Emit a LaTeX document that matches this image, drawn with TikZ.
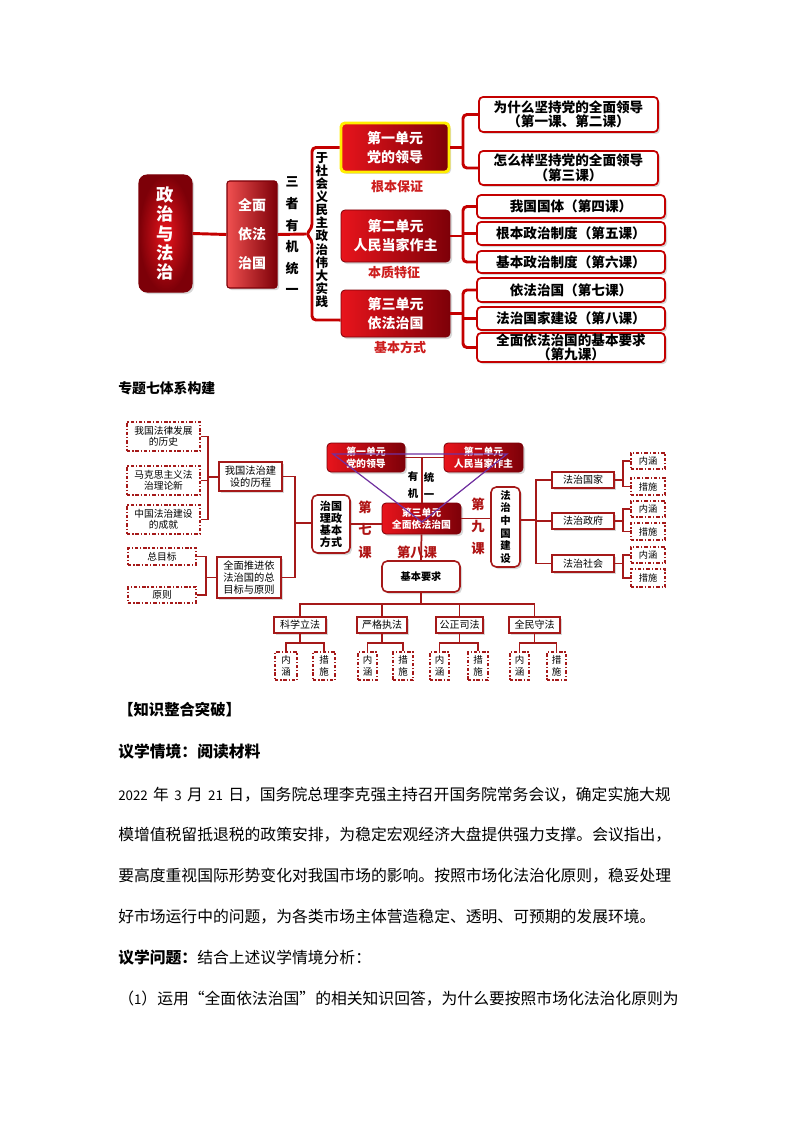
\documentclass[tikz,border=0pt]{standalone}
\usepackage{fontspec}
\setmainfont{Noto Sans CJK SC}
\usetikzlibrary{shadows}
\definecolor{tred}{RGB}{196,0,0}
\definecolor{sred}{RGB}{165,25,25}
\definecolor{bred}{RGB}{232,20,28}
\definecolor{dred}{RGB}{125,0,8}
\definecolor{lred}{RGB}{240,80,80}
\definecolor{lblred}{RGB}{205,30,30}
\definecolor{kred}{RGB}{175,20,20}
\definecolor{ylw}{RGB}{255,238,0}
\definecolor{purp}{RGB}{112,48,160}
\newcommand\fs[2]{\fontsize{#1}{#2}\selectfont}
\newcommand\pxu{0.75pt}
\tikzset{
 tl/.style={draw=tred, line width=2.2pt, rounded corners=3pt},
 sl/.style={draw=sred, line width=1.3pt},
 shd/.style={drop shadow={shadow xshift=1.5pt,shadow yshift=-1.5pt,opacity=0.3}},
 bigred/.style={shd, rounded corners=6pt, draw=dred, line width=0.8pt, inner color=bred, outer color=dred, text=white, font=\bfseries, align=center, inner sep=0pt},
 unitbox/.style={shd, rounded corners=3pt, draw=dred, line width=0.6pt, left color=bred, right color=dred, text=white, font=\bfseries, align=center, inner sep=0pt},
 ubyellow/.style={unitbox, draw=ylw, line width=2.2pt},
 wbox/.style={shd, rounded corners=3pt, draw=tred, line width=1.3pt, fill=white, font=\bfseries\fs{10.2}{10.8}, align=center, inner sep=0pt},
 lbl/.style={text=lblred, font=\bfseries\fs{9.75}{10}, inner sep=0pt},
 sbox/.style={shd, draw=sred, line width=1pt, fill=white, align=center, inner sep=0pt},
 dbox/.style={draw=sred, line width=0.9pt, dash pattern=on 2.6pt off 1.4pt on 0.9pt off 1.4pt, fill=white, align=center, inner sep=0pt},
 rbox/.style={shd, rounded corners=4pt, draw=sred, line width=1.2pt, fill=white, align=center, inner sep=0pt, font=\bfseries},
 ke/.style={text=kred, align=center, inner sep=0pt},
 body/.style={anchor=west, inner sep=0pt, font=\fs{11.85}{12}},
}
\begin{document}
\begin{tikzpicture}[x=0.75pt,y=-0.75pt]
\useasboundingbox (0,0) rectangle (794,1123);
\fill[white] (0,0) rectangle (794,1123);

% ===== top diagram =====
\node[bigred, minimum width=53*\pxu, minimum height=117*\pxu, font=\bfseries\fs{13}{14.5}] (zz) at (165.5,233.5) {政\\治\\与\\法\\治};
\node[bigred, left color=lred, right color=dred, rounded corners=2pt, minimum width=50*\pxu, minimum height=107*\pxu, font=\bfseries\fs{10.5}{21.75}] (qm) at (252,234.5) {全面\\依法\\治国};
\node[font=\bfseries\fs{9.75}{16.2}, align=center, inner sep=0pt] (sz) at (292,236) {三\\者\\有\\机\\统\\一};
\node[font=\bfseries\fs{9.4}{9.83}, align=center, inner sep=0pt] (ys) at (322,230) {于\\社\\会\\义\\民\\主\\政\\治\\伟\\大\\实\\践};

\node[ubyellow, minimum width=108*\pxu, minimum height=49*\pxu, font=\bfseries\fs{10.5}{14.25}] (u1) at (395,147.5) {第一单元\\党的领导};
\node[unitbox, minimum width=109*\pxu, minimum height=52*\pxu, font=\bfseries\fs{10.5}{14.25}] (u2) at (395.5,236) {第二单元\\人民当家作主};
\node[unitbox, minimum width=109*\pxu, minimum height=47*\pxu, font=\bfseries\fs{10.5}{14.25}] (u3) at (395.5,313.5) {第三单元\\依法治国};
\node[lbl] (l1) at (397,187) {根本保证};
\node[lbl] (l2) at (394,273) {本质特征};
\node[lbl] (l3) at (400,347) {基本方式};

\node[wbox, minimum width=179*\pxu, minimum height=35*\pxu] (r1) at (568.5,114.5) {为什么坚持党的全面领导\\（第一课、第二课）};
\node[wbox, minimum width=179*\pxu, minimum height=34*\pxu] (r2) at (568.5,168) {怎么样坚持党的全面领导\\（第三课）};
\node[wbox, minimum width=188*\pxu, minimum height=23*\pxu] (r3) at (571,206.5) {我国国体（第四课）};
\node[wbox, minimum width=188*\pxu, minimum height=23*\pxu] (r4) at (571,233.5) {根本政治制度（第五课）};
\node[wbox, minimum width=188*\pxu, minimum height=22*\pxu] (r5) at (571,262) {基本政治制度（第六课）};
\node[wbox, minimum width=188*\pxu, minimum height=24*\pxu] (r6) at (571,290) {依法治国（第七课）};
\node[wbox, minimum width=188*\pxu, minimum height=23*\pxu] (r7) at (571,318.5) {法治国家建设（第八课）};
\node[wbox, minimum width=188*\pxu, minimum height=29*\pxu] (r8) at (571,347.5) {全面依法治国的基本要求\\（第九课）};

\draw[tl] (zz.east) -- (qm.west);
\coordinate (tip) at (306,234);
\draw[tl] (qm.east) -- (tip);
\draw[tl] (u1.west) -- (312,147.5) -- (312,228) -- (tip) -- (312,240) -- (312,320) -- ([yshift=-4.9pt]u3.west);
\coordinate (j1) at (463,147.5);
\draw[tl] (u1.east) -- (j1);
\draw[tl] (r1.west) -| (j1) |- (r2.west);
\coordinate (j2) at (463,236);
\draw[tl] (u2.east) -- (j2);
\draw[tl] (r3.west) -| (j2) |- (r5.west);
\draw[tl] (r4.west) -- (r4.west -| j2);
\coordinate (j3) at (463,313.5);
\draw[tl] (u3.east) -- (j3);
\draw[tl] (r6.west) -| (j3) |- (r8.west);
\draw[tl] (r7.west) -- (r7.west -| j3);

\node[anchor=west, inner sep=0pt, font=\bfseries\fs{10.4}{11}] (h1) at (118,388) {专题七体系构建};

% ===== second diagram =====
\node[dbox, minimum width=73*\pxu, minimum height=29*\pxu, font=\fs{7.3}{8.2}] (a1) at (163.5,436.5) {我国法律发展\\的历史};
\node[dbox, minimum width=73*\pxu, minimum height=29*\pxu, font=\fs{7.3}{8.2}] (a2) at (163.5,480.5) {马克思主义法\\治理论新};
\node[dbox, minimum width=73*\pxu, minimum height=29*\pxu, font=\fs{7.3}{8.2}] (a3) at (163.5,519.5) {中国法治建设\\的成就};
\node[dbox, minimum width=68*\pxu, minimum height=17*\pxu, font=\fs{7.3}{8}] (a4) at (162,556.5) {总目标};
\node[dbox, minimum width=68*\pxu, minimum height=16*\pxu, font=\fs{7.3}{8}] (a5) at (162,595) {原则};

\node[sbox, minimum width=63*\pxu, minimum height=29*\pxu, font=\fs{7.7}{9.5}] (b1) at (250.5,476.5) {我国法治建\\设的历程};
\node[sbox, minimum width=64*\pxu, minimum height=41*\pxu, font=\fs{7.7}{9}] (b2) at (249,577.5) {全面推进依\\法治国的总\\目标与原则};

\node[rbox, minimum width=38*\pxu, minimum height=58*\pxu, font=\bfseries\fs{8.3}{9}] (c1) at (331,524) {治国\\理政\\基本\\方式};

\node[unitbox, minimum width=78*\pxu, minimum height=29*\pxu, font=\bfseries\fs{7.4}{9.2}] (d1) at (366,457.5) {第一单元\\党的领导};
\node[unitbox, minimum width=79*\pxu, minimum height=29*\pxu, font=\bfseries\fs{7.4}{9.2}] (d2) at (483.5,457.5) {第二单元\\人民当家作主};
\node[unitbox, minimum width=79*\pxu, minimum height=31*\pxu, font=\bfseries\fs{7.4}{9.2}] (d3) at (421.5,518.5) {第三单元\\全面依法治国};

\node[rbox, minimum width=29*\pxu, minimum height=80*\pxu, font=\bfseries\fs{7.8}{9.5}] (e) at (505.5,527) {法\\治\\中\\国\\建\\设};

\node[sbox, minimum width=62*\pxu, minimum height=16*\pxu, font=\fs{7.5}{8}] (f1) at (583,480) {法治国家};
\node[sbox, minimum width=62*\pxu, minimum height=16*\pxu, font=\fs{7.5}{8}] (f2) at (583,521) {法治政府};
\node[sbox, minimum width=62*\pxu, minimum height=17*\pxu, font=\fs{7.5}{8}] (f3) at (583,563.5) {法治社会};

\node[dbox, minimum width=34*\pxu, minimum height=16*\pxu, font=\fs{6.9}{7}] (g11) at (648,461) {内涵};
\node[dbox, minimum width=34*\pxu, minimum height=17*\pxu, font=\fs{6.9}{7}] (g12) at (648,486.5) {措施};
\node[dbox, minimum width=34*\pxu, minimum height=16*\pxu, font=\fs{6.9}{7}] (g21) at (648,509) {内涵};
\node[dbox, minimum width=34*\pxu, minimum height=17*\pxu, font=\fs{6.9}{7}] (g22) at (648,531.5) {措施};
\node[dbox, minimum width=34*\pxu, minimum height=16*\pxu, font=\fs{6.9}{7}] (g31) at (648,555) {内涵};
\node[dbox, minimum width=34*\pxu, minimum height=18*\pxu, font=\fs{6.9}{7}] (g32) at (648,578) {措施};

\node[rbox, minimum width=78*\pxu, minimum height=31*\pxu, font=\bfseries\fs{7.6}{8}] (h) at (421,576.5) {基本要求};

\node[sbox, minimum width=52*\pxu, minimum height=16*\pxu, font=\fs{7.5}{8}] (k1) at (300,625) {科学立法};
\node[sbox, minimum width=50*\pxu, minimum height=16*\pxu, font=\fs{7.5}{8}] (k2) at (382,625) {严格执法};
\node[sbox, minimum width=47*\pxu, minimum height=16*\pxu, font=\fs{7.5}{8}] (k3) at (459.5,625) {公正司法};
\node[sbox, minimum width=51*\pxu, minimum height=16*\pxu, font=\fs{7.5}{8}] (k4) at (534.5,625) {全民守法};

\node[dbox, minimum width=22*\pxu, minimum height=28*\pxu, font=\fs{7.1}{8.8}] (n11) at (286,666) {内\\涵};
\node[dbox, minimum width=22*\pxu, minimum height=28*\pxu, font=\fs{7.1}{8.8}] (n12) at (324,666) {措\\施};
\node[dbox, minimum width=19*\pxu, minimum height=28*\pxu, font=\fs{7.1}{8.8}] (n21) at (367.5,666) {内\\涵};
\node[dbox, minimum width=20*\pxu, minimum height=28*\pxu, font=\fs{7.1}{8.8}] (n22) at (403,666) {措\\施};
\node[dbox, minimum width=19*\pxu, minimum height=28*\pxu, font=\fs{7.1}{8.8}] (n31) at (439.5,666) {内\\涵};
\node[dbox, minimum width=20*\pxu, minimum height=28*\pxu, font=\fs{7.1}{8.8}] (n32) at (478,666) {措\\施};
\node[dbox, minimum width=19*\pxu, minimum height=28*\pxu, font=\fs{7.1}{8.8}] (n41) at (519.5,666) {内\\涵};
\node[dbox, minimum width=19*\pxu, minimum height=28*\pxu, font=\fs{7.1}{8.8}] (n42) at (556.5,666) {措\\施};

% labels
\node[ke, font=\bfseries\fs{10}{16.9}] (q7) at (365,529.5) {第\\七\\课};
\node[ke, font=\bfseries\fs{10}{16.5}] (q9) at (478,526) {第\\九\\课};
\node[font=\bfseries\fs{7.8}{12.75}, align=center, inner sep=0pt] (yj) at (413,485.5) {有\\机};
\node[font=\bfseries\fs{7.8}{12.75}, align=center, inner sep=0pt] (ty) at (429,485.5) {统\\一};

% connectors second diagram
\coordinate (ja) at (208,477);
\draw[sl] (a1.east) -| (ja) |- (a3.east);
\draw[sl] (a2.east) -- (a2.east -| ja);
\draw[sl] (ja) -- (ja -| b1.west);
\coordinate (jb) at (206,577.5);
\draw[sl] (a4.east) -| (jb) |- (a5.east);
\draw[sl] (jb) -- (b2.west);
\coordinate (jc) at (295,523);
\draw[sl] (b1.east) -| (jc) |- (b2.east);
\draw[sl] (jc) -- (jc -| c1.west);
\draw[sl] (c1.east) -- (c1.east -| d3.west);
\draw[sl] (d1.east) -- (d2.west);
\coordinate (dm) at (422,457.5);
\draw[sl] (dm) -- (dm |- d3.north);
\draw[sl] (d3.east) -- (d3.east -| e.west);
\draw[sl] (d3.south) -- (h.north);
\coordinate (jf) at (536,520);
\draw[sl] (jf -| e.east) -- (jf);
\draw[sl] (f1.west) -| (jf) |- (f3.west);
\draw[sl] (f2.west) -- (f2.west -| jf);
\coordinate (jg1) at (623,480);
\draw[sl] (f1.east) -- (jg1);
\draw[sl] (g11.west) -| (jg1) |- (g12.west);
\coordinate (jg2) at (623,521);
\draw[sl] (f2.east) -- (jg2);
\draw[sl] (g21.west) -| (jg2) |- (g22.west);
\coordinate (jg3) at (623,563.5);
\draw[sl] (f3.east) -- (jg3);
\draw[sl] (g31.west) -| (jg3) |- (g32.west);
\coordinate (jk) at (421,604);
\draw[sl] (h.south) -- (jk);
\draw[sl] (k1.north) |- (jk) -| (k4.north);
\draw[sl] (k2.north) -- (k2.north |- jk);
\draw[sl] (k3.north) -- (k3.north |- jk);
\coordinate (jn1) at (300,643);
\draw[sl] (k1.south) -- (jn1);
\draw[sl] (n11.north) |- (jn1) -| (n12.north);
\coordinate (jn2) at (382,643);
\draw[sl] (k2.south) -- (jn2);
\draw[sl] (n21.north) |- (jn2) -| (n22.north);
\coordinate (jn3) at (459.5,643);
\draw[sl] (k3.south) -- (jn3);
\draw[sl] (n31.north) |- (jn3) -| (n32.north);
\coordinate (jn4) at (534.5,643);
\draw[sl] (k4.south) -- (jn4);
\draw[sl] (n41.north) |- (jn4) -| (n42.north);

\node[ke, font=\bfseries\fs{10}{10}] (q8) at (417,552) {第八课};

% purple triangle
\coordinate (pa) at (333,454);
\coordinate (pb) at (507,454);
\coordinate (pc) at (422,522);
\draw[purp, line width=0.9pt] (pa) -- (pb) -- (pc) -- cycle;

% ===== text =====
\node[body, font=\bfseries\fs{11.5}{12}] (t1) at (118,710) {【知识整合突破】};
\node[body, font=\bfseries\fs{11.85}{12}] (t2) at (118,752) {议学情境：阅读材料};
\node[body] (t3) at (118,795) {{\fs{10}{10}2022}\hspace{4pt}年\hspace{4pt}{\fs{10}{10}3}\hspace{4pt}月\hspace{4pt}{\fs{10}{10}21}\hspace{4pt}日，国务院总理李克强主持召开国务院常务会议，确定实施大规};
\node[body] (t4) at (118,835) {模增值税留抵退税的政策安排，为稳定宏观经济大盘提供强力支撑。会议指出，};
\node[body] (t5) at (118,876) {要高度重视国际形势变化对我国市场的影响。按照市场化法治化原则，稳妥处理};
\node[body] (t6) at (118,917) {好市场运行中的问题，为各类市场主体营造稳定、透明、可预期的发展环境。};
\node[body] (t7) at (118,958) {\textbf{议学问题：}结合上述议学情境分析：};
\node[body] (t8) at (118,999) {（{\fs{10}{10}1}）运用“全面依法治国”的相关知识回答，为什么要按照市场化法治化原则为};
\end{tikzpicture}
\end{document}
